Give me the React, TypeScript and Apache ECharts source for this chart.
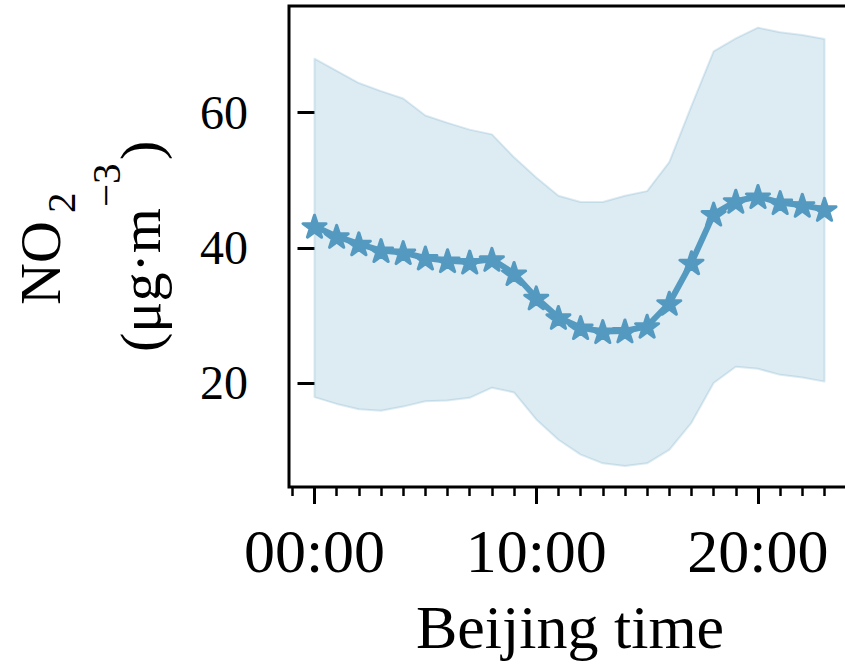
import React, { useEffect, useRef } from "react";
import * as echarts from "echarts";

const hours = [0,1,2,3,4,5,6,7,8,9,10,11,12,13,14,15,16,17,18,19,20,21,22,23];
const meanNO2 = [43.2,41.7,40.6,39.6,39.3,38.5,38.1,37.9,38.3,36.2,32.6,29.7,28.2,27.6,27.7,28.4,31.8,37.8,45.0,46.9,47.6,46.7,46.3,45.7];
const upperNO2 = [68.0,66.2,64.4,63.2,62.1,59.6,58.5,57.5,56.8,53.4,50.4,47.7,46.8,46.8,47.7,48.4,52.7,61.0,69.1,71.0,72.6,71.9,71.5,70.9];
const lowerNO2 = [17.9,16.9,16.1,15.9,16.5,17.3,17.4,17.8,19.3,18.6,14.6,11.6,9.4,8.1,7.7,8.1,10.1,14.1,20.0,22.4,22.1,21.2,20.8,20.2];
const xTickValues = [0, 10, 20];
const xTickLabels = ["00:00", "10:00", "20:00"];
const xMinorTicks = [-1,0,1,2,3,4,5,6,7,8,9,10,11,12,13,14,15,16,17,18,19,20,21,22,23,24];
const yTickValues = [20, 40, 60];

const FONT = "Liberation Serif";
const LINE_COLOR = "#5499c0";
const BAND_COLOR = "rgba(84,153,192,0.2)";
const STAR =
  "path://M0,-1 L0.2245,-0.309 L0.951,-0.309 L0.3633,0.118 L0.588,0.809 L0,0.382 L-0.588,0.809 L-0.3633,0.118 L-0.951,-0.309 L-0.2245,-0.309 Z";

export default function App() {
  const ref = useRef<HTMLDivElement>(null);
  useEffect(() => {
    document.body.style.margin = "0";
    const chart = echarts.init(ref.current!, null, { renderer: "svg" });
    const xMin = -1.15, xMax = 24.15;
    const option: any = {
      animation: false,
      backgroundColor: "#fff",
      grid: {
        left: 289, top: 6, width: 561, height: 481,
        outerBoundsMode: "none",
        containLabel: false,
        show: true, borderColor: "#000", borderWidth: 3,
        backgroundColor: "transparent",
      },
      xAxis: [
        {
          type: "value", min: xMin, max: xMax, position: "bottom",
          axisLine: { show: false },
          splitLine: { show: false },
          axisTick: { show: true, customValues: xTickValues, length: 17, inside: false,
            lineStyle: { color: "#000", width: 3 } },
          axisLabel: {
            show: true, customValues: xTickValues, margin: 33,
            fontFamily: FONT, fontSize: 62, color: "#000",
            formatter: (v: number) => xTickLabels[xTickValues.indexOf(Math.round(v))] ?? "",
          },
        },
        {
          type: "value", min: xMin, max: xMax, position: "bottom",
          axisLine: { show: false },
          splitLine: { show: false },
          axisTick: { show: true, customValues: xMinorTicks, length: 9, inside: false,
            lineStyle: { color: "#000", width: 2.5 } },
          axisLabel: { show: false },
        },
      ],
      yAxis: {
        type: "value", min: 4.6, max: 75.8,
        axisLine: { show: false },
        splitLine: { show: false },
        axisTick: { show: true, customValues: yTickValues, length: 17, inside: false,
          lineStyle: { color: "#000", width: 3 } },
        axisLabel: {
          show: true, customValues: yTickValues, margin: 41,
          fontFamily: FONT, fontSize: 48, color: "#000",
          formatter: (v: number) => String(Math.round(v)),
        },
      },
      graphic: [
        {
          type: "text", x: 570, y: 627,
          style: { text: "Beijing time", fontFamily: FONT, fontSize: 62, fill: "#000",
            align: "center", verticalAlign: "middle" },
        },
        {
          type: "group", x: 0, y: 0, rotation: Math.PI / 2,
          children: [
            { type: "text", x: -305, y: 40.4,
              style: { text: "NO", fontFamily: FONT, fontSize: 58, fill: "#000", align: "left", verticalAlign: "middle" } },
            { type: "text", x: -213, y: 61.2,
              style: { text: "2", fontFamily: FONT, fontSize: 41, fill: "#000", align: "left", verticalAlign: "middle" } },
            { type: "text", x: -352, y: 140.4,
              style: { text: "(\u03bcg\u00b7m", fontFamily: FONT, fontSize: 58, fill: "#000", align: "left", verticalAlign: "middle" } },
            { type: "text", x: -207, y: 106.2,
              style: { text: "\u22123", fontFamily: FONT, fontSize: 41, fill: "#000", align: "left", verticalAlign: "middle" } },
            { type: "text", x: -160, y: 140.4,
              style: { text: ")", fontFamily: FONT, fontSize: 58, fill: "#000", align: "left", verticalAlign: "middle" } },
          ],
        },
      ],
      series: [
        {
          type: "custom",
          xAxisIndex: 0,
          yAxisIndex: 0,
          data: [[0, 0]],
          z: 1,
          renderItem: (params: any, api: any) => {
            const pts: number[][] = [];
            for (let i = 0; i < hours.length; i++) pts.push(api.coord([hours[i], upperNO2[i]]));
            for (let i = hours.length - 1; i >= 0; i--) pts.push(api.coord([hours[i], lowerNO2[i]]));
            return {
              type: "polygon",
              shape: { points: pts },
              style: { fill: BAND_COLOR, stroke: BAND_COLOR, lineWidth: 2, lineJoin: "round" },
            };
          },
        },
        {
          type: "line",
          xAxisIndex: 0,
          yAxisIndex: 0,
          z: 3,
          data: hours.map((h, i) => [h, meanNO2[i]]),
          symbol: STAR,
          symbolSize: [23, 22],
          lineStyle: { color: LINE_COLOR, width: 6 },
          itemStyle: { color: LINE_COLOR, borderColor: LINE_COLOR, borderWidth: 3, borderJoin: "round", opacity: 1 },
          emphasis: { disabled: true },
        },
      ],
    };
    chart.setOption(option);
    return () => chart.dispose();
  }, []);
  return <div ref={ref} style={{ width: 845, height: 664 }} />;
}
